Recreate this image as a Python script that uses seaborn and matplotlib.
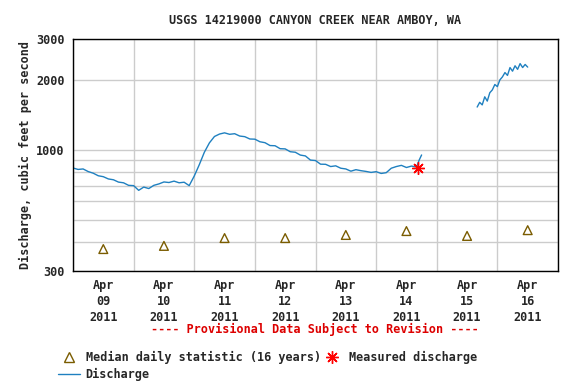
import matplotlib
matplotlib.use("Agg")
import matplotlib.pyplot as plt
import matplotlib.dates as mdates
from matplotlib.lines import Line2D
from matplotlib.ticker import FixedLocator, NullFormatter
import seaborn as sns
import pandas as pd
import numpy as np

# discharge, first segment (hours after Apr 9 00:00, cfs)
hours_a = [0, 2, 4, 6, 8, 10, 12, 14, 16, 18, 20, 22, 24, 26, 28, 30, 32, 34, 36, 38,
           40, 42, 44, 46, 48, 50, 52, 54, 56, 58, 60, 62, 64, 66, 68, 70, 72, 74, 76, 78,
           80, 82, 84, 86, 88, 90, 92, 94, 96, 98, 100, 102, 104, 106, 108, 110, 112, 114,
           116, 118, 120, 122, 124, 126, 128, 130, 132, 134, 136, 137, 138]
flow_a = [834, 822, 826, 805, 792, 772, 765, 748, 742, 725, 720, 702, 700, 668, 690, 680,
          702, 712, 726, 722, 732, 720, 724, 700, 770, 862, 975, 1070, 1140, 1168, 1182, 1165,
          1172, 1145, 1138, 1112, 1110, 1082, 1072, 1042, 1040, 1010, 1008, 980, 975, 948,
          940, 902, 898, 866, 865, 846, 852, 832, 826, 808, 820, 812, 806, 798, 804, 790,
          796, 832, 846, 856, 838, 850, 842, 900, 949]

# discharge, second segment
hours_b = [160, 161, 162, 163, 164, 165, 166, 167, 168, 169, 170, 171, 172, 173, 174, 175,
           176, 177, 178, 179, 180]
flow_b = [1527, 1600, 1560, 1690, 1620, 1760, 1810, 1910, 1870, 2000, 2060, 2150, 2090,
          2260, 2180, 2300, 2220, 2350, 2260, 2330, 2270]

# median daily statistic (16 years), one per day at noon
median_days = ["2011-04-09", "2011-04-10", "2011-04-11", "2011-04-12",
               "2011-04-13", "2011-04-14", "2011-04-15", "2011-04-16"]
median_flow = [373, 385, 416, 416, 429, 446, 425, 450]

# measured discharge
meas_time = ["2011-04-14 16:40"]
meas_flow = [834]

start = pd.Timestamp("2011-04-09")
df_a = pd.DataFrame({"time": start + pd.to_timedelta(hours_a, unit="h"), "flow": flow_a})
df_b = pd.DataFrame({"time": start + pd.to_timedelta(hours_b, unit="h"), "flow": flow_b})
df_med = pd.DataFrame({"time": pd.to_datetime(median_days) + pd.Timedelta(hours=12),
                       "flow": median_flow})
df_meas = pd.DataFrame({"time": pd.to_datetime(meas_time), "flow": meas_flow})

sns.set_style("white")
plt.rcParams["font.family"] = ["DejaVu Sans Mono"]
plt.rcParams["font.weight"] = "bold"

blue = "#1f80c0"
olive = "#7a5c00"

fig = plt.figure(figsize=(5.76, 3.84), dpi=100)
ax = fig.add_axes([73 / 576, 1 - 271 / 384, 485 / 576, 232 / 384])

sns.lineplot(data=df_a, x="time", y="flow", color=blue, lw=1, ax=ax)
sns.lineplot(data=df_b, x="time", y="flow", color=blue, lw=1, ax=ax)
sns.scatterplot(data=df_med, x="time", y="flow", marker="^", s=40, facecolor="none",
                edgecolor=olive, linewidth=1, ax=ax, zorder=3)
ax.plot(df_meas["time"], df_meas["flow"], marker=(8, 2, 0), ms=9, color="red",
        mew=1, ls="none", zorder=4)

ax.set_yscale("log")
ax.set_ylim(300, 3000)
ax.set_xlim(start, start + pd.Timedelta(days=8))

ax.yaxis.set_major_locator(FixedLocator([300, 1000, 2000, 3000]))
ax.yaxis.set_major_formatter(matplotlib.ticker.FixedFormatter(["300", "1000", "2000", "3000"]))
ax.yaxis.set_minor_locator(FixedLocator([400, 500, 600, 700, 800, 900]))
ax.yaxis.set_minor_formatter(NullFormatter())

noons = pd.date_range("2011-04-09 12:00", periods=8, freq="D")
ax.xaxis.set_major_locator(FixedLocator(mdates.date2num(noons)))
ax.set_xticklabels([d.strftime("%b\n%d\n%Y") for d in noons])
ax.xaxis.set_minor_locator(mdates.DayLocator())

ax.grid(False)
ax.grid(True, which="minor", axis="x", color="#cccccc", lw=1)
ax.grid(True, which="both", axis="y", color="#cccccc", lw=1)
ax.set_axisbelow(True)
ax.tick_params(which="both", length=0, labelsize=8.5, pad=6)
for t in ax.get_xticklabels() + ax.get_yticklabels():
    t.set_fontweight("bold")
    t.set_linespacing(1.3)
for s in ax.spines.values():
    s.set_color("black")
    s.set_linewidth(1)

ax.set_xlabel("")
ax.set_ylabel("Discharge, cubic feet per second", fontsize=8.5, fontweight="bold", labelpad=3)
ax.set_title("USGS 14219000 CANYON CREEK NEAR AMBOY, WA", fontsize=8.5,
             fontweight="bold", pad=11)

fig.text(315 / 576, 1 - 329 / 384, "---- Provisional Data Subject to Revision ----",
         color="#dd0000", fontsize=8.5, fontweight="bold", ha="center", va="center")

handles = [
    Line2D([], [], marker="^", ls="none", mfc="none", mec=olive, ms=7),
    Line2D([], [], color=blue, lw=1),
    Line2D([], [], marker=(8, 2, 0), ls="none", color="red", ms=9),
]
labels = ["Median daily statistic (16 years)", "Discharge", "Measured discharge"]
fig.legend(handles, labels, loc="upper left", bbox_to_anchor=(52 / 576, 1 - 345 / 384),
           ncol=2, frameon=False, fontsize=8.5, handlelength=1.9, handletextpad=0.45,
           columnspacing=0.0, labelspacing=0.3, borderpad=0)

fig.savefig("out.png", dpi=100)
